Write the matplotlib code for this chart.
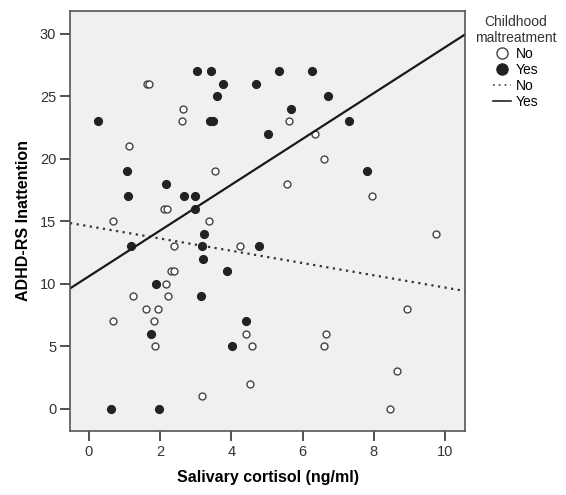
import matplotlib
matplotlib.use("Agg")
import matplotlib.pyplot as plt
from matplotlib.lines import Line2D

plt.rcParams['font.family'] = ['Liberation Sans', 'DejaVu Sans']

# childhood maltreatment: No (open circles)
no_x = [1.62, 1.70, 2.64, 2.61, 1.12, 3.54, 5.62, 6.35, 6.60, 5.56, 7.95,
        2.10, 2.20, 0.67, 3.37, 2.39, 4.24, 2.30, 2.40, 2.16, 1.24, 2.22,
        1.60, 1.94, 0.67, 1.83, 1.85, 4.41, 4.58, 4.52, 3.17, 9.75, 8.93,
        6.65, 6.60, 8.65, 8.46]
no_y = [26, 26, 24, 23, 21, 19, 23, 22, 20, 18, 17,
        16, 16, 15, 15, 13, 13, 11, 11, 10, 9, 9,
        8, 8, 7, 7, 5, 6, 5, 2, 1, 14, 8,
        6, 5, 3, 0]

# childhood maltreatment: Yes (filled circles)
yes_x = [0.25, 1.07, 1.10, 1.18, 2.16, 2.67, 2.98, 2.98, 3.03, 3.43, 3.76,
         3.60, 3.40, 3.48, 3.23, 3.18, 3.20, 3.88, 3.15, 1.88, 1.74, 4.41,
         4.02, 0.62, 1.97, 4.78, 4.69, 5.34, 6.27, 6.71, 5.67, 7.30, 5.03,
         7.80]
yes_y = [23, 19, 17, 13, 18, 17, 17, 16, 27, 27, 26,
         25, 23, 23, 14, 13, 12, 11, 9, 10, 6, 7,
         5, 0, 0, 13, 26, 27, 27, 25, 24, 23, 22,
         19]

# fit lines (intercept, slope)
fit_no = (14.6, -0.49)
fit_yes = (10.6, 1.83)

xlim = (-0.53, 10.56)
ylim = (-1.76, 31.8)

fig = plt.figure(figsize=(5.66, 4.95), dpi=100)
ax = fig.add_axes([0.1237, 0.1293, 0.6979, 0.8485])
ax.set_facecolor('#f0f0f0')

ax.plot(no_x, no_y, 'o', ms=5, mfc='white', mec='#444444', mew=1.0, ls='none')
ax.plot(yes_x, yes_y, 'o', ms=5.6, mfc='#222222', mec='#222222', ls='none')

xs = list(xlim)
ax.plot(xs, [fit_no[0] + fit_no[1] * v for v in xs], color='#333333',
        lw=1.6, ls=(0, (1, 2.0)))
ax.plot(xs, [fit_yes[0] + fit_yes[1] * v for v in xs], color='#1a1a1a', lw=1.6)

ax.set_xlim(*xlim)
ax.set_ylim(*ylim)
ax.set_xticks([0, 2, 4, 6, 8, 10])
ax.set_yticks([0, 5, 10, 15, 20, 25, 30])
ax.tick_params(direction='out', length=7, width=1.2, labelsize=10.5,
               colors='#333333', pad=3)
for s in ax.spines.values():
    s.set_color('#555555')
    s.set_linewidth(1.2)

ax.set_xlabel('Salivary cortisol (ng/ml)', fontsize=11.5, fontweight='bold', labelpad=8)
ax.set_ylabel('ADHD-RS Inattention', fontsize=11.5, fontweight='bold', labelpad=6)

handles = [
    Line2D([], [], marker='o', ls='none', ms=8, mfc='white', mec='#444444'),
    Line2D([], [], marker='o', ls='none', ms=8, mfc='#222222', mec='#222222'),
    Line2D([], [], color='#333333', lw=1.2, ls=(0, (1, 2.5))),
    Line2D([], [], color='#222222', lw=1.2),
]
leg = fig.legend(handles, ['No', 'Yes', 'No', 'Yes'], title='Childhood\nmaltreatment',
                 loc='upper left', bbox_to_anchor=(0.822, 0.99), frameon=False,
                 fontsize=10, title_fontsize=10, handlelength=1.3,
                 handletextpad=0.3, labelspacing=0.15, borderpad=0.2)
leg.get_title().set_multialignment('center')
leg.get_title().set_color('#333333')

fig.savefig('out.png', dpi=100)
